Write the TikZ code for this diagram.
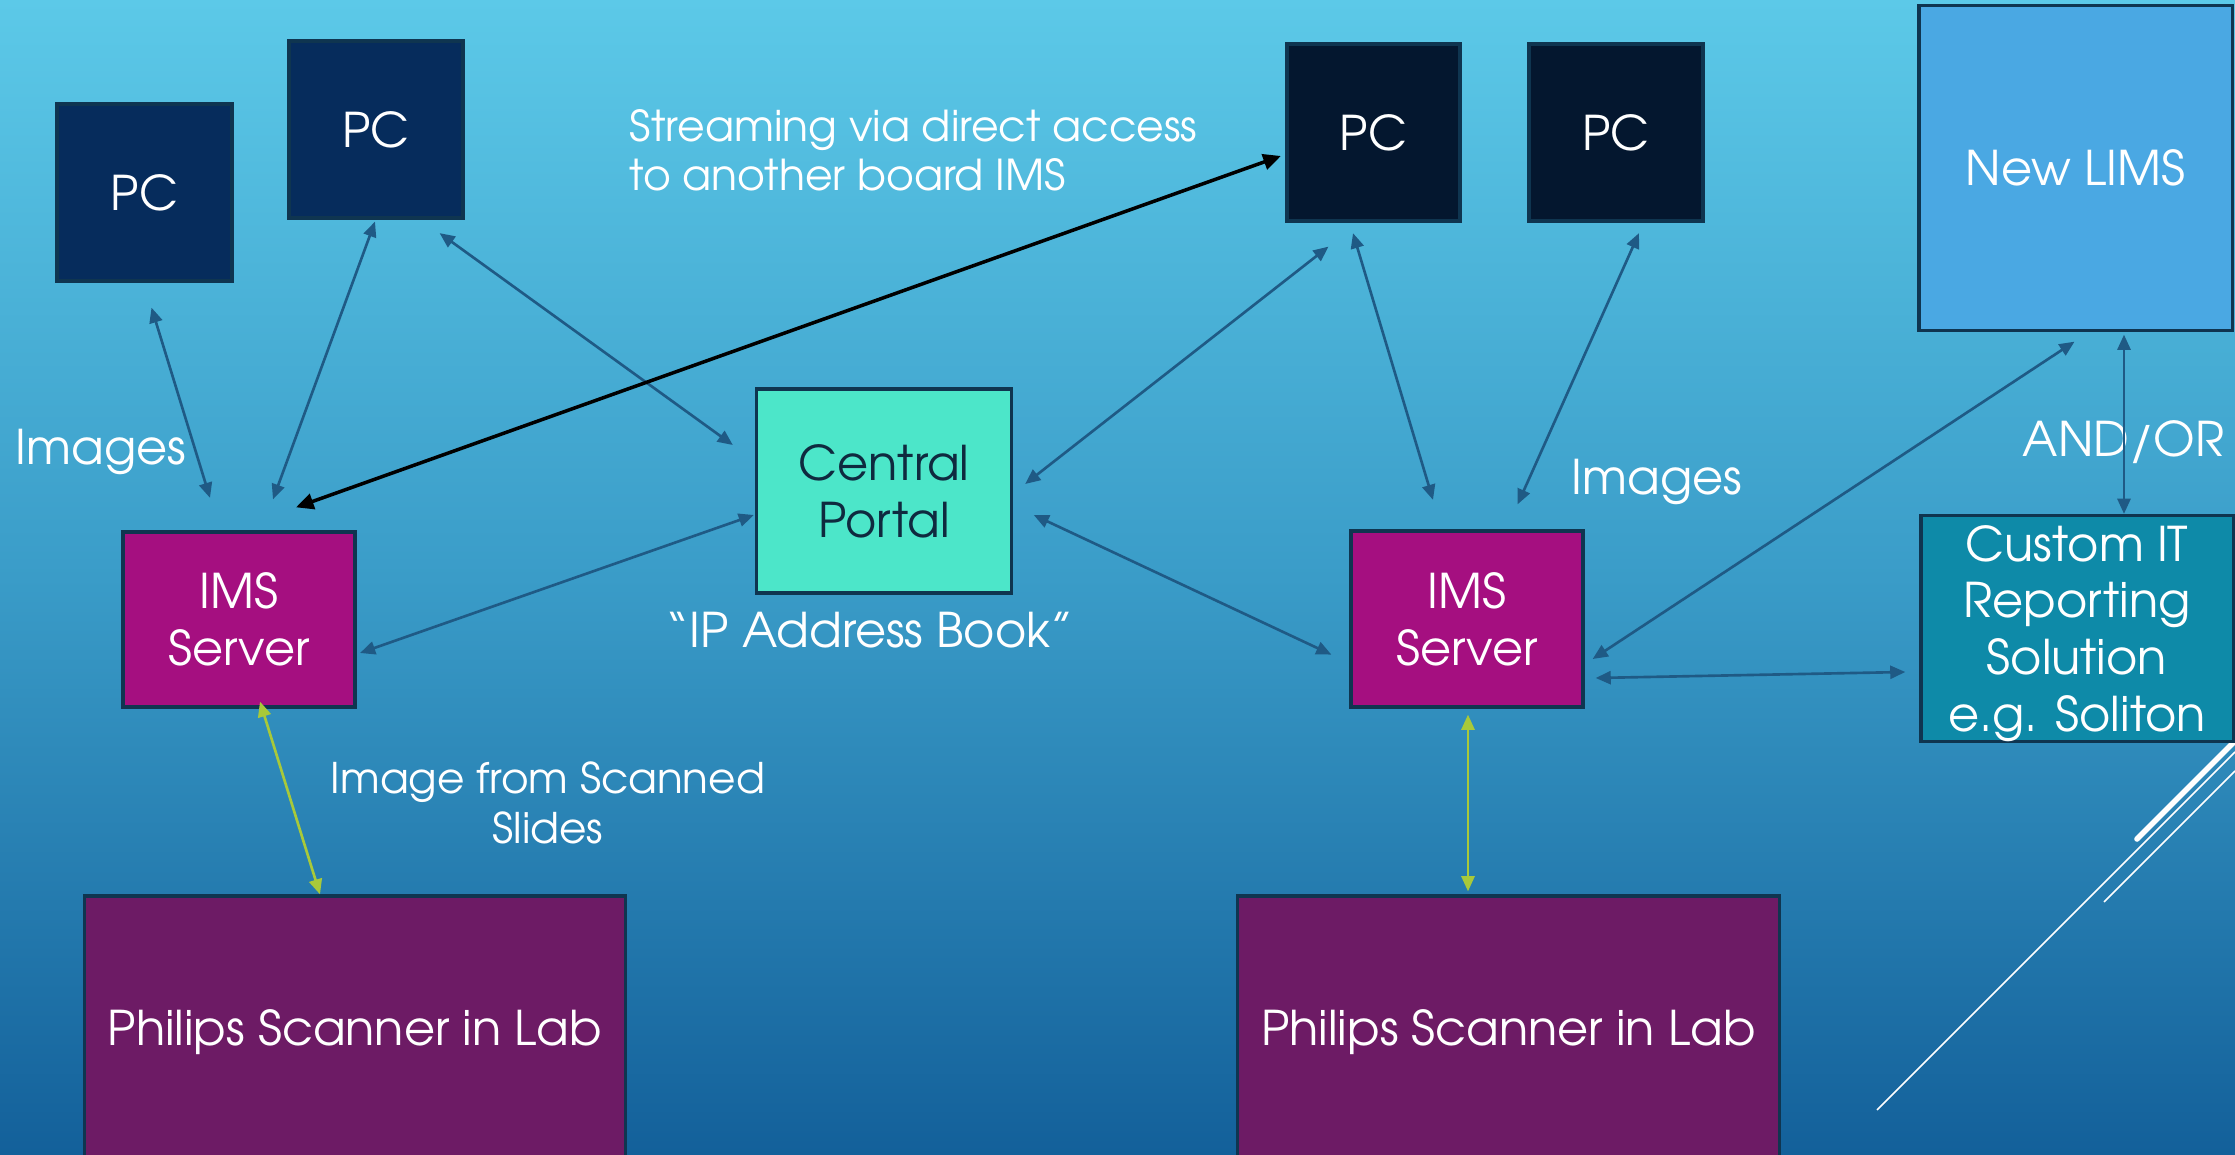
\documentclass[tikz,border=0pt]{standalone}
\usepackage{fontspec}
\setmainfont{TeX Gyre Adventor}
\usetikzlibrary{arrows.meta,calc}
\definecolor{bgtop}{HTML}{5CC9E8}
\definecolor{bgmid}{HTML}{3A9CC8}
\definecolor{bgbot}{HTML}{13609A}
\definecolor{pcA}{HTML}{062C5C}
\definecolor{pcB}{HTML}{04172F}
\definecolor{limscol}{HTML}{4AA8E3}
\definecolor{imscol}{HTML}{A50F80}
\definecolor{portalcol}{HTML}{4CE6C9}
\definecolor{citcol}{HTML}{0E8AA8}
\definecolor{philcol}{HTML}{6D1B65}
\definecolor{bordercol}{HTML}{0F3550}
\definecolor{arrowblue}{HTML}{1F5A85}
\definecolor{yg}{HTML}{A8C93A}
\definecolor{darktext}{HTML}{0F2A3F}
\newcommand{\mainfs}{\fontsize{13.6}{16.2}\selectfont}
\newcommand{\smallfs}{\fontsize{12.1}{14.2}\selectfont}
\begin{document}
\begin{tikzpicture}[x=0.01cm,y=-0.01cm,
  box/.style={draw=bordercol,line width=0.9pt,inner sep=0pt,align=center,text=white,font=\mainfs},
  lbl/.style={inner sep=0pt,text=white,font=\mainfs},
  conn/.style={draw=arrowblue,line width=0.75pt,{Triangle[length=4.3pt,width=3.7pt]}-{Triangle[length=4.3pt,width=3.7pt]}},
  yconn/.style={draw=yg,line width=0.75pt,{Triangle[length=4.3pt,width=3.7pt]}-{Triangle[length=4.3pt,width=3.7pt]}},
  bconn/.style={draw=black,line width=1pt,{Triangle[length=5pt,width=4.5pt]}-{Triangle[length=5pt,width=4.5pt]}},
  deco/.style={draw=white,line width=0.45pt}]
\useasboundingbox (0,0) rectangle (2235,1155);
\clip (0,0) rectangle (2235,1155);
\shade[top color=bgtop,bottom color=bgbot,middle color=bgmid] (0,0) rectangle (2235,1155);

% decorative lines
\draw[deco] (1877,1110) -- (2235,752);
\draw[deco] (2104,902) -- (2235,771);
\draw[draw=white,line width=1.6pt,line cap=round] (2137,839) -- (2240,736);

% boxes
\node[box,fill=pcA,minimum width=1.75cm,minimum height=1.77cm] (pc1) at (144.5,192.5) {PC};
\node[box,fill=pcA,minimum width=1.74cm,minimum height=1.77cm] (pc2) at (376,129.5) {PC};
\node[box,fill=pcB,minimum width=1.73cm,minimum height=1.77cm] (pc3) at (1373.5,132.5) {PC};
\node[box,fill=pcB,minimum width=1.74cm,minimum height=1.77cm] (pc4) at (1616,132.5) {PC};
\node[box,fill=limscol,minimum width=3.13cm,minimum height=3.24cm] (lims) at (2075.5,168) {New LIMS};
\node[box,fill=imscol,minimum width=2.32cm,minimum height=1.75cm] (ims1) at (239,619.5) {IMS\\Server};
\node[box,fill=imscol,minimum width=2.32cm,minimum height=1.76cm] (ims2) at (1467,619) {IMS\\Server};
\node[box,fill=portalcol,text=darktext,minimum width=2.55cm,minimum height=2.04cm] (portal) at (884,491) {Central\\Portal};
\node[box,fill=citcol,text depth=0pt,minimum width=3.12cm,minimum height=2.26cm] (cit) at (2077,628.5) {Custom IT\\Reporting\\Solution\\e.g. Soliton};
\node[box,fill=philcol,minimum width=5.4cm,minimum height=2.72cm] (ph1) at (355,1032) {Philips Scanner in Lab};
\node[box,fill=philcol,minimum width=5.41cm,minimum height=2.72cm] (ph2) at (1508.5,1032) {Philips Scanner in Lab};

% labels
\node[lbl,anchor=base west] (imgL) at (15,465) {Images};
\node[lbl,anchor=base west] (imgR) at (1571,495) {Images};
\node[lbl,anchor=base west] (ipbook) at (665,648) {“IP Address Book”};
\node[lbl,anchor=base west] (andor) at (2022,457) {AND/OR};
\node[lbl,anchor=base west,align=left,font=\smallfs] (stream) at (629,191) {Streaming via direct access\\to another board IMS};
\node[lbl,anchor=base,align=center,font=\fontsize{12.0}{14.3}\selectfont] (scanned) at (548,843.5) {Image from Scanned\\Slides};

% connectors
\draw[conn] ($(pc1.south)+(7,25)$) -- ($(ims1.north)+(-29,-32.5)$);
\draw[conn] ($(pc2.south)+(-1,2)$) -- ($(ims1.north)+(34,-31)$);
\draw[conn] ($(pc2.south east)+(-25,13.5)$) -- ($(portal.west)+(-22,-46)$);
\draw[conn] ($(portal.west)+(-1,24)$) -- ($(ims1.east)+(3.4,33.5)$);
\draw[conn] ($(pc3.south)+(-45,24)$) -- ($(portal.east)+(12,-7)$);
\draw[conn] ($(portal.east)+(20.6,24)$) -- ($(ims2.west)+(-18,35.6)$);
\draw[conn] ($(pc3.south)+(-20.5,10.5)$) -- ($(ims2.north)+(-34,-29.5)$);
\draw[conn] ($(pc4.south)+(23,10.5)$) -- ($(ims2.north)+(50.6,-25)$);
\draw[conn] ($(ims2.east)+(8,40)$) -- ($(lims.south)+(-1,10)$);
\draw[conn] ($(ims2.east)+(11,59)$) -- ($(cit.west)+(-14,43.5)$);
\draw[conn] ($(lims.south)+(48.5,3)$) -- ($(cit.north)+(47,0)$);
\draw[bconn] ($(pc3.west)+(-4.5,23.5)$) -- ($(ims1.north)+(57,-23)$);
\draw[yconn] ($(ims1.south)+(21,-7)$) -- ($(ph1.north)+(-35,0)$);
\draw[yconn] ($(ims2.south)+(1,6)$) -- ($(ph2.north)+(-40.5,-3)$);
\end{tikzpicture}
\end{document}
